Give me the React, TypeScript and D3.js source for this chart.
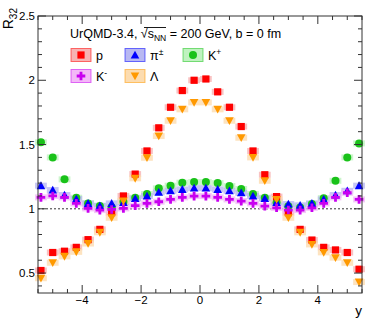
import React from "react";
import * as d3 from "d3";

// rapidity bins (same for every species)
const yBins = [
  -5.4, -5.0, -4.6, -4.2, -3.8, -3.4, -3.0, -2.6, -2.2, -1.8, -1.4, -1.0, -0.6, -0.2,
  0.2, 0.6, 1.0, 1.4, 1.8, 2.2, 2.6, 3.0, 3.4, 3.8, 4.2, 4.6, 5.0, 5.4,
];

const proton = [
  0.52, 0.66, 0.67, 0.70, 0.76, 0.84, 0.97, 1.10, 1.27, 1.45, 1.63, 1.79, 1.92, 2.00,
  2.01, 1.91, 1.79, 1.64, 1.45, 1.265, 1.095, 0.97, 0.84, 0.757, 0.70, 0.68, 0.66, 0.53,
];
const lambda = [
  0.46, 0.58, 0.63, 0.665, 0.73, 0.817, 0.93, 1.06, 1.237, 1.397, 1.566, 1.685, 1.774, 1.828,
  1.828, 1.774, 1.685, 1.553, 1.40, 1.218, 1.073, 0.93, 0.817, 0.723, 0.661, 0.62, 0.58, 0.43,
];
const kplus = [
  1.517, 1.40, 1.229, 1.086, 1.042, 1.021, 1.012, 1.055, 1.086, 1.115, 1.159, 1.18, 1.203, 1.208,
  1.208, 1.20, 1.177, 1.154, 1.115, 1.086, 1.05, 1.02, 1.01, 1.037, 1.083, 1.218, 1.40, 1.509,
];
const pion = [
  1.18, 1.146, 1.107, 1.076, 1.042, 1.024, 1.042, 1.05, 1.08, 1.10, 1.128, 1.14, 1.151, 1.161,
  1.161, 1.151, 1.14, 1.124, 1.10, 1.08, 1.05, 1.037, 1.027, 1.042, 1.073, 1.107, 1.14, 1.18,
];
const kminus = [
  1.089, 1.10, 1.089, 1.042, 1.003, 0.99, 0.995, 1.003, 1.024, 1.042, 1.055, 1.073, 1.089, 1.099,
  1.099, 1.089, 1.073, 1.06, 1.042, 1.021, 1.008, 0.99, 0.99, 1.008, 1.042, 1.089, 1.125, 1.073,
];

const yMajor = [0.5, 1, 1.5, 2, 2.5];
const xMajor = [-4, -2, 0, 2, 4];

type Shape = "square" | "triUp" | "circle" | "plus" | "triDown";

const species = [
  { key: "K+", values: kplus, shape: "circle" as Shape, color: "#19c219", light: "#bff2bf" },
  { key: "p", values: proton, shape: "square" as Shape, color: "#ff0000", light: "#f7b3b3" },
  { key: "pi", values: pion, shape: "triUp" as Shape, color: "#0000ff", light: "#b8b8f2" },
  { key: "K-", values: kminus, shape: "plus" as Shape, color: "#c800f0", light: "#f3b8f7" },
  { key: "Lambda", values: lambda, shape: "triDown" as Shape, color: "#ff9900", light: "#fcdcb0" },
];

const W = 382;
const H = 322;
const m = { left: 38, right: 20, top: 16, bottom: 29 };
const FONT = "'Liberation Sans', Arial, Helvetica, sans-serif";

function Marker({ shape, cx, cy, color }: { shape: Shape; cx: number; cy: number; color: string }) {
  if (shape === "square") return <rect x={cx - 3.6} y={cy - 3.6} width={7.2} height={7.2} fill={color} />;
  if (shape === "circle") return <circle cx={cx} cy={cy} r={4} fill={color} />;
  if (shape === "triUp")
    return <path d={`M${cx - 4.3},${cy + 3.5}L${cx + 4.3},${cy + 3.5}L${cx},${cy - 4.3}Z`} fill={color} />;
  if (shape === "triDown")
    return <path d={`M${cx - 4.3},${cy - 3.5}L${cx + 4.3},${cy - 3.5}L${cx},${cy + 4.3}Z`} fill={color} />;
  const a = 4.3, t = 1.4;
  return (
    <path
      d={`M${cx - t},${cy - a}H${cx + t}V${cy - t}H${cx + a}V${cy + t}H${cx + t}V${cy + a}H${cx - t}V${cy + t}H${cx - a}V${cy - t}H${cx - t}Z`}
      fill={color}
    />
  );
}

export default function App() {
  const x = d3.scaleLinear().domain([-5.5, 5.5]).range([m.left, W - m.right]);
  const y = d3.scaleLinear().domain([0.345, 2.5]).range([H - m.bottom, m.top]);
  const [x0, x1] = x.range();
  const [y0, y1] = y.range();

  const xMinor = d3.range(-5.5, 5.51, 0.5);
  const yMinor = d3.range(4, 26).map((d) => d / 10);
  const axisColor = "#333";

  const legend = [
    { key: "p", label: "p", col: 0, row: 0 },
    { key: "pi", label: "π", sup: "±", col: 1, row: 0 },
    { key: "K+", label: "K", sup: "+", col: 2, row: 0 },
    { key: "K-", label: "K", sup: "-", col: 0, row: 1 },
    { key: "Lambda", label: "Λ", col: 1, row: 1 },
  ];
  const legCols = [71, 125, 183];
  const legRows = [55, 76];

  return (
    <svg width={W} height={H} style={{ position: "absolute", left: 0, top: 0, background: "#fff" }} fontFamily={FONT}>
      {/* dashed unity line */}
      <line x1={x0} x2={x1} y1={y(1)} y2={y(1)} stroke="#000" strokeWidth={0.8} strokeDasharray="2,2" />

      {/* systematic boxes */}
      {species.map((s) =>
        s.values.map((v, i) => (
          <rect
            key={`b-${s.key}-${i}`}
            x={x(yBins[i] - 0.2)}
            y={y(v) - 3}
            width={x(0.4) - x(0)}
            height={6}
            fill={s.light}
            opacity={0.8}
          />
        ))
      )}

      {/* markers */}
      {species.map((s) =>
        s.values.map((v, i) => (
          <Marker key={`m-${s.key}-${i}`} shape={s.shape} cx={x(yBins[i])} cy={y(v)} color={s.color} />
        ))
      )}

      {/* frame */}
      <rect x={x0} y={y1} width={x1 - x0} height={y0 - y1} fill="none" stroke={axisColor} strokeWidth={1} />

      {/* x ticks */}
      {xMinor.map((t) => {
        const big = xMajor.includes(t);
        const len = big ? 8 : 4;
        return (
          <g key={`xt-${t}`} stroke={axisColor}>
            <line x1={x(t)} x2={x(t)} y1={y0} y2={y0 - len} />
            <line x1={x(t)} x2={x(t)} y1={y1} y2={y1 + len} />
          </g>
        );
      })}
      {/* y ticks */}
      {yMinor.map((t) => {
        const big = yMajor.some((v) => Math.abs(v - t) < 1e-6);
        const len = big ? 8 : 4;
        return (
          <g key={`yt-${t}`} stroke={axisColor}>
            <line x1={x0} x2={x0 + len} y1={y(t)} y2={y(t)} />
            <line x1={x1} x2={x1 - len} y1={y(t)} y2={y(t)} />
          </g>
        );
      })}

      {/* tick labels */}
      {xMajor.map((t) => (
        <text key={`xl-${t}`} x={x(t)} y={304} textAnchor="middle" fontSize={11.5} fill="#000">
          {t < 0 ? `\u2212${Math.abs(t)}` : t}
        </text>
      ))}
      {yMajor.map((t) => (
        <text key={`yl-${t}`} x={35} y={y(t) + 4} textAnchor="end" fontSize={11.5} fill="#000">
          {t}
        </text>
      ))}

      {/* axis titles */}
      <text x={362} y={315} textAnchor="end" fontSize={13.5} fill="#000">y</text>
      <text transform="translate(13,8) rotate(-90)" textAnchor="end" fontSize={14} fill="#000">
        R<tspan fontSize={10} dy={4}>32</tspan>
      </text>

      {/* header */}
      <text x={70} y={38} fontSize={12.5} fill="#000">
        UrQMD-3.4, √<tspan>s</tspan>
        <tspan fontSize={8.5} dy={3}>NN</tspan>
        <tspan dy={-3}> = 200 GeV, b = 0 fm</tspan>
      </text>
      <line x1={144} x2={166} y1={27.5} y2={27.5} stroke="#000" strokeWidth={0.9} />

      {/* legend */}
      {legend.map((l) => {
        const s = species.find((d) => d.key === l.key)!;
        const bx = legCols[l.col];
        const by = legRows[l.row];
        return (
          <g key={`lg-${l.key}`}>
            <rect x={bx} y={by - 6.5} width={20} height={13} fill={s.light} stroke={s.color} strokeOpacity={0.55} strokeWidth={1} />
            <Marker shape={s.shape} cx={bx + 10} cy={by} color={s.color} />
            <text x={bx + 25} y={by + 4.5} fontSize={12.5} fill="#000">
              {l.label}
              {l.sup && (
                <tspan fontSize={8.5} dy={-5}>
                  {l.sup}
                </tspan>
              )}
            </text>
          </g>
        );
      })}
    </svg>
  );
}
